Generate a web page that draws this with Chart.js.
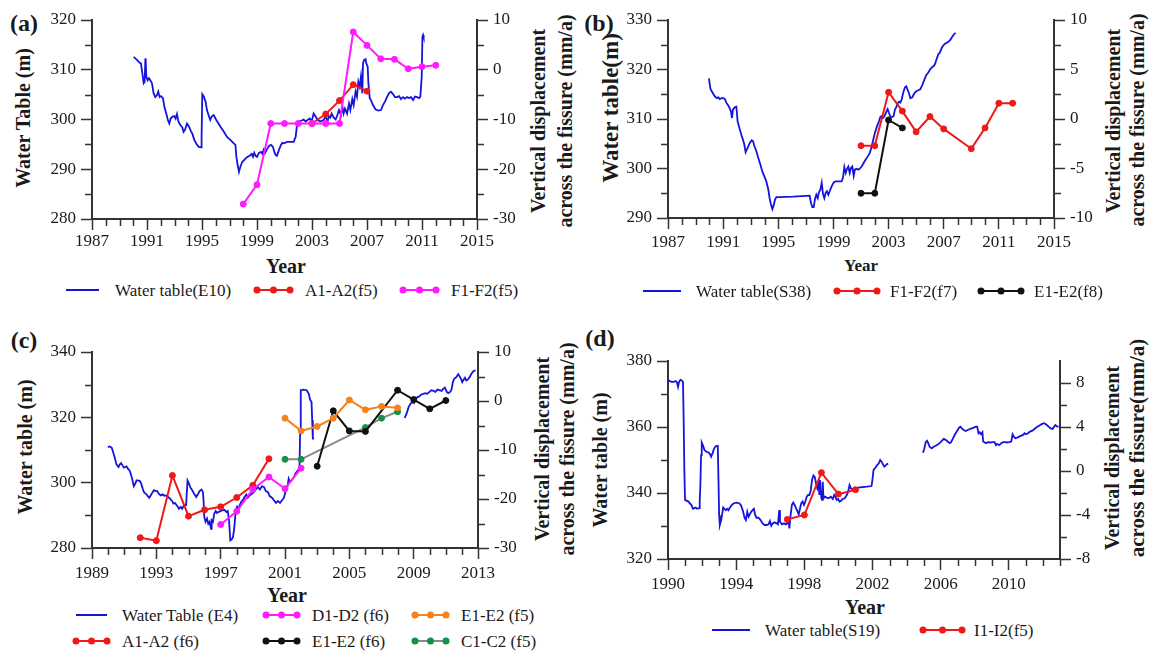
<!DOCTYPE html>
<html><head><meta charset="utf-8">
<script src="https://cdn.jsdelivr.net/npm/chart.js@4.4.1/dist/chart.umd.min.js"></script>
<style>
html,body{margin:0;padding:0;background:#fff;}
#wrap{position:relative;width:1149px;height:653px;overflow:hidden;font-family:"Liberation Serif","Times New Roman",serif;color:#1a1a1a;}
canvas{position:absolute;}
.t{position:absolute;white-space:nowrap;line-height:1;transform:translate(-50%,-50%);}
.r{transform:translate(-50%,-50%) rotate(-90deg);}
.b{font-weight:bold;}
.lg{position:absolute;white-space:nowrap;line-height:1;transform:translateY(-50%);font-size:17px;}
svg.sym{position:absolute;overflow:visible;}
</style></head><body><div id="wrap">
<div class="t b" style="left:24px;top:23px;font-size:24px">(a)</div>
<div class="t b r" style="left:23px;top:118px;font-size:20px">Water Table (m)</div>
<div class="t b r" style="left:538px;top:121px;font-size:20px">Vertical displacement</div>
<div class="t b r" style="left:565px;top:121px;font-size:20px">across the fissure (mm/a)</div>
<div class="t b" style="left:286px;top:266px;font-size:20px">Year</div>

<div class="t b" style="left:599px;top:23px;font-size:24px">(b)</div>
<div class="t b r" style="left:610px;top:108px;font-size:23px">Water table(m)</div>
<div class="t b r" style="left:1113px;top:121px;font-size:20px">Vertical displacement</div>
<div class="t b r" style="left:1137px;top:120px;font-size:20px">across the fissure (mm/a)</div>
<div class="t b" style="left:861px;top:265px;font-size:17px">Year</div>

<div class="t b" style="left:24px;top:340px;font-size:24px">(c)</div>
<div class="t b r" style="left:25px;top:447px;font-size:20px">Water table (m)</div>
<div class="t b r" style="left:542px;top:449px;font-size:20px">Vertical displacement</div>
<div class="t b r" style="left:567px;top:449px;font-size:20px">across the fissure (mm/a)</div>
<div class="t b" style="left:287px;top:595px;font-size:20px">Year</div>

<div class="t b" style="left:600px;top:338px;font-size:24px">(d)</div>
<div class="t b r" style="left:600px;top:460px;font-size:20px">Water table (m)</div>
<div class="t b r" style="left:1112px;top:458px;font-size:20px">Vertical displacement</div>
<div class="t b r" style="left:1137px;top:448px;font-size:21px">across the fissure(mm/a)</div>
<div class="t b" style="left:865px;top:607px;font-size:20px">Year</div>
</div>
<script>
// ---------------- DATA ----------------
// Panel (a)
const aYearTicks = [1987,1991,1995,1999,2003,2007,2011,2015];
const aLevelTicks = [280,290,300,310,320];
const aDispTicks = [-30,-20,-10,0,10];
const aE10 = [[1990.03,312.6],[1990.27,312.0],[1990.46,311.4],[1990.56,311.3],[1990.68,308.9],[1990.76,307.3],[1990.83,307.6],[1990.88,312.1],[1990.90,312.3],[1990.95,308.6],[1991.05,307.9],[1991.14,308.3],[1991.24,307.9],[1991.36,307.3],[1991.48,305.3],[1991.60,304.5],[1991.73,304.9],[1991.82,305.6],[1991.92,304.5],[1992.02,304.7],[1992.16,304.3],[1992.26,302.6],[1992.40,301.2],[1992.52,299.9],[1992.62,299.2],[1992.72,300.2],[1992.86,300.6],[1992.99,300.7],[1993.08,300.2],[1993.18,301.1],[1993.28,299.6],[1993.42,298.9],[1993.57,298.4],[1993.66,297.5],[1993.76,297.9],[1993.91,299.2],[1994.05,298.6],[1994.20,297.6],[1994.29,297.2],[1994.44,295.9],[1994.59,295.1],[1994.76,294.5],[1994.93,294.4],[1994.97,296.5],[1995.02,305.1],[1995.12,304.7],[1995.26,303.6],[1995.36,301.9],[1995.51,300.6],[1995.60,299.9],[1995.70,300.6],[1995.85,300.9],[1996.04,299.9],[1996.33,298.6],[1996.58,297.6],[1996.82,296.5],[1997.06,295.9],[1997.31,295.2],[1997.43,294.9],[1997.50,292.5],[1997.59,290.9],[1997.69,289.5],[1997.79,290.5],[1997.93,291.5],[1998.08,291.9],[1998.17,292.2],[1998.32,292.5],[1998.46,292.7],[1998.61,293.1],[1998.71,292.5],[1998.80,293.3],[1998.90,292.7],[1999.00,292.5],[1999.14,293.3],[1999.29,293.5],[1999.39,293.1],[1999.48,293.9],[1999.58,293.2],[1999.72,294.0],[1999.87,294.7],[2000.02,294.9],[2000.16,294.5],[2000.26,293.5],[2000.35,292.9],[2000.45,292.7],[2000.60,293.9],[2000.74,294.9],[2000.84,295.3],[2000.98,295.2],[2001.18,295.5],[2001.42,295.5],[2001.66,295.5],[2001.81,296.5],[2001.91,298.9],[2002.05,299.6],[2002.25,299.8],[2002.39,300.0],[2002.54,299.6],[2002.68,299.9],[2002.83,300.2],[2002.97,299.6],[2003.12,301.2],[2003.26,300.6],[2003.41,299.9],[2003.60,299.6],[2003.84,299.9],[2003.99,300.6],[2004.13,299.6],[2004.23,300.7],[2004.33,300.4],[2004.43,301.2],[2004.57,300.4],[2004.72,300.0],[2004.82,300.7],[2004.96,301.9],[2005.11,300.9],[2005.21,302.6],[2005.30,301.2],[2005.40,302.2],[2005.55,301.2],[2005.69,303.2],[2005.79,301.9],[2005.93,304.1],[2006.03,302.9],[2006.17,305.6],[2006.27,304.6],[2006.37,307.6],[2006.47,306.6],[2006.56,308.6],[2006.66,305.3],[2006.71,311.3],[2006.80,312.0],[2006.90,312.1],[2006.95,311.3],[2007.05,310.6],[2007.10,307.3],[2007.20,304.3],[2007.29,303.9],[2007.43,302.9],[2007.63,302.0],[2007.82,301.8],[2008.02,301.9],[2008.16,302.9],[2008.31,303.6],[2008.45,304.5],[2008.60,305.3],[2008.74,305.6],[2008.89,305.1],[2009.03,304.5],[2009.18,304.5],[2009.33,304.7],[2009.47,304.1],[2009.62,304.5],[2009.76,304.2],[2009.91,304.5],[2010.06,304.3],[2010.20,304.5],[2010.35,303.9],[2010.49,304.6],[2010.64,304.5],[2010.79,304.3],[2010.88,304.6],[2010.98,308.6],[2011.03,316.6],[2011.08,317.0],[2011.12,316.6]];
const aA1A2 = [[2003,-10.8],[2004,-8.9],[2005,-6.2],[2006,-3.0],[2007,-4.3]];
const aF1F2 = [[1998,-27.0],[1999,-23.1],[2000,-10.8],[2001,-10.8],[2002,-10.8],[2003,-10.8],[2004,-10.8],[2005,-10.8],[2006,7.6],[2007,4.9],[2008,2.2],[2009,2.1],[2010,0.2],[2011,0.6],[2012,0.9]];

// Panel (b)
const bYearTicks = [1987,1991,1995,1999,2003,2007,2011,2015];
const bLevelTicks = [290,300,310,320,330];
const bDispTicks = [-10,-5,0,5,10];
const bS38 = [[1989.97,318.2],[1990.07,316.2],[1990.17,315.6],[1990.26,315.2],[1990.36,314.7],[1990.46,314.4],[1990.55,314.2],[1990.65,314.4],[1990.75,314.0],[1990.89,314.2],[1991.04,314.2],[1991.13,314.0],[1991.23,313.3],[1991.38,312.7],[1991.47,312.2],[1991.57,311.5],[1991.64,310.2],[1991.71,311.9],[1991.86,312.4],[1991.96,312.5],[1992.05,309.5],[1992.15,308.5],[1992.25,307.5],[1992.34,306.6],[1992.44,305.8],[1992.54,304.8],[1992.63,303.3],[1992.73,303.9],[1992.83,304.5],[1992.92,305.1],[1993.07,305.7],[1993.17,305.5],[1993.26,304.6],[1993.41,303.5],[1993.55,302.1],[1993.70,300.8],[1993.84,299.4],[1993.99,298.4],[1994.13,297.4],[1994.28,295.7],[1994.37,294.0],[1994.47,292.7],[1994.57,291.8],[1994.66,292.5],[1994.76,293.7],[1994.86,294.2],[1995.10,294.2],[1996.07,294.3],[1997.28,294.5],[1997.37,293.0],[1997.47,292.2],[1997.57,292.2],[1997.66,293.8],[1997.76,294.7],[1997.86,294.0],[1997.95,295.2],[1998.05,295.7],[1998.15,297.1],[1998.24,294.9],[1998.34,294.0],[1998.44,295.1],[1998.53,295.4],[1998.63,294.7],[1998.73,295.4],[1998.87,296.4],[1999.02,297.2],[1999.16,297.4],[1999.45,297.4],[1999.60,297.4],[1999.69,298.1],[1999.79,300.3],[1999.89,299.1],[1999.98,299.9],[2000.08,300.4],[2000.18,299.1],[2000.27,300.1],[2000.37,300.4],[2000.47,298.5],[2000.56,299.8],[2000.66,299.9],[2000.85,299.8],[2000.95,300.1],[2001.05,300.4],[2001.19,301.1],[2001.34,301.8],[2001.48,302.4],[2001.63,303.1],[2001.72,303.9],[2001.87,305.6],[2002.01,307.2],[2002.16,308.5],[2002.30,309.5],[2002.40,310.4],[2002.50,310.6],[2002.59,310.2],[2002.69,310.5],[2002.84,311.5],[2002.93,312.0],[2003.03,311.2],[2003.13,310.5],[2003.27,310.4],[2003.37,310.6],[2003.46,311.9],[2003.56,312.4],[2003.66,313.2],[2003.76,313.5],[2003.85,313.3],[2003.95,313.9],[2004.05,315.2],[2004.19,316.4],[2004.29,316.6],[2004.38,315.9],[2004.48,315.2],[2004.58,314.2],[2004.72,314.4],[2004.87,315.2],[2005.01,315.6],[2005.16,315.8],[2005.30,316.0],[2005.45,316.9],[2005.59,317.9],[2005.74,318.9],[2005.88,319.4],[2006.03,320.1],[2006.17,320.5],[2006.27,320.7],[2006.37,321.1],[2006.46,321.9],[2006.61,323.1],[2006.70,323.3],[2006.85,324.3],[2006.95,324.8],[2007.09,325.2],[2007.24,325.4],[2007.33,325.6],[2007.48,326.0],[2007.62,326.6],[2007.77,327.2],[2007.87,327.4]];
const bF1F2 = [[2001,-2.7],[2002,-2.7],[2003,2.7],[2004,0.8],[2005,-1.3],[2006,0.25],[2007,-1.0],[2009,-3.0],[2010,-0.9],[2011,1.6],[2012,1.6]];
const bE1E2 = [[2001,-7.5],[2002,-7.5],[2003,-0.1],[2004,-0.9]];

// Panel (c)
const cYearTicks = [1989,1993,1997,2001,2005,2009,2013];
const cLevelTicks = [280,300,320,340];
const cDispTicks = [-30,-20,-10,0,10];
const cE4 = [[1989.98,310.9],[1990.10,311.1],[1990.23,310.7],[1990.31,309.4],[1990.40,307.9],[1990.52,305.6],[1990.65,304.8],[1990.73,305.6],[1990.81,306.0],[1990.90,305.3],[1990.98,304.6],[1991.06,304.8],[1991.15,305.0],[1991.23,304.3],[1991.35,303.6],[1991.44,302.2],[1991.52,300.7],[1991.60,298.9],[1991.69,299.7],[1991.77,300.7],[1991.85,300.7],[1991.98,300.5],[1992.06,299.7],[1992.15,298.2],[1992.23,297.1],[1992.35,296.6],[1992.48,295.8],[1992.56,295.4],[1992.65,296.1],[1992.77,297.1],[1992.85,297.7],[1992.98,297.4],[1993.06,297.4],[1993.15,296.6],[1993.27,296.1],[1993.40,296.4],[1993.48,296.0],[1993.60,296.1],[1993.73,295.6],[1993.85,295.1],[1993.98,294.4],[1994.06,293.6],[1994.15,293.8],[1994.23,293.3],[1994.31,292.8],[1994.40,292.0],[1994.52,292.6],[1994.60,292.0],[1994.73,293.1],[1994.85,293.1],[1994.94,300.7],[1995.02,299.9],[1995.10,298.7],[1995.23,297.7],[1995.35,296.6],[1995.48,295.6],[1995.60,296.6],[1995.69,297.4],[1995.81,297.9],[1995.90,297.1],[1995.94,294.1],[1995.98,289.5],[1996.06,288.0],[1996.15,289.0],[1996.23,287.4],[1996.31,288.0],[1996.40,285.9],[1996.44,288.5],[1996.52,288.0],[1996.60,290.5],[1996.69,291.3],[1996.77,290.7],[1996.85,291.0],[1996.98,291.3],[1997.10,291.5],[1997.23,291.7],[1997.35,291.0],[1997.44,291.3],[1997.52,288.5],[1997.60,282.3],[1997.69,282.6],[1997.77,283.4],[1997.85,286.4],[1997.94,291.5],[1998.02,292.6],[1998.10,292.0],[1998.19,293.1],[1998.27,294.1],[1998.40,294.8],[1998.48,295.6],[1998.60,296.4],[1998.69,295.4],[1998.81,296.1],[1998.94,296.6],[1999.06,297.1],[1999.19,297.9],[1999.31,298.7],[1999.44,297.9],[1999.56,298.9],[1999.69,298.7],[1999.81,297.4],[1999.94,297.1],[2000.06,295.8],[2000.19,295.4],[2000.31,294.6],[2000.44,293.8],[2000.56,294.4],[2000.69,293.8],[2000.81,294.6],[2000.94,295.4],[2001.06,297.9],[2001.15,298.7],[2001.23,301.2],[2001.31,300.2],[2001.40,300.7],[2001.48,301.2],[2001.56,301.7],[2001.65,302.8],[2001.73,303.3],[2001.81,303.8],[2001.90,304.6],[2001.94,315.0],[2001.98,328.3],[2002.15,328.5],[2002.35,328.3],[2002.48,327.2],[2002.56,325.4],[2002.65,324.7],[2002.69,319.1],[2002.73,313.5],[2002.81,313.5],[2005.5,null],[2008.44,319.8],[2008.56,321.1],[2008.69,323.2],[2008.81,324.2],[2008.94,324.7],[2009.02,324.4],[2009.10,325.4],[2009.23,326.2],[2009.35,326.4],[2009.48,327.0],[2009.60,327.2],[2009.73,327.4],[2009.85,327.2],[2009.98,327.8],[2010.10,328.3],[2010.23,328.1],[2010.35,327.8],[2010.48,328.5],[2010.60,328.3],[2010.73,328.1],[2010.85,328.8],[2010.94,329.1],[2011.06,327.8],[2011.15,327.4],[2011.27,327.8],[2011.35,328.5],[2011.44,330.8],[2011.52,331.8],[2011.65,332.3],[2011.77,333.2],[2011.85,332.6],[2011.94,331.8],[2012.02,330.8],[2012.10,331.5],[2012.19,332.1],[2012.27,331.3],[2012.35,331.5],[2012.48,332.3],[2012.60,333.4],[2012.73,334.2],[2012.85,334.4]];
const cA1A2 = [[1992,-27.9],[1993,-28.5],[1994,-15.2],[1995,-23.5],[1996,-22.2],[1997,-21.6],[1998,-19.7],[1999,-17.2],[2000,-11.8]];
const cD1D2 = [[1997,-25.2],[1998,-22.5],[1999,-18.0],[2000,-15.5],[2001,-17.9],[2002,-13.7]];
const cE1E2f5 = [[2001,-3.5],[2002,-6.1],[2003,-5.2],[2004,-3.5],[2005,0.2],[2006,-1.8],[2007,-1.1],[2008,-1.4]];
const cE1E2f6 = [[2003,-13.3],[2004,-2.0],[2005,-6.1],[2006,-6.2],[2008,2.2],[2009,0.3],[2010,-1.6],[2011,0.1]];
const cC1C2 = [[2001,-11.9],[2002,-11.9],[2006,-5.4],[2007,-3.5],[2008,-2.2]];

// Panel (d)
const dYearTicks = [1990,1994,1998,2002,2006,2010];
const dLevelTicks = [320,340,360,380];
const dDispTicks = [-8,-4,0,4,8];
const dS19 = [[1990.00,374.2],[1990.10,373.9],[1990.22,373.7],[1990.33,373.7],[1990.45,373.9],[1990.53,373.5],[1990.59,372.2],[1990.65,373.7],[1990.73,374.3],[1990.80,374.1],[1990.88,373.7],[1990.92,361.6],[1990.96,346.5],[1991.00,337.9],[1991.08,337.7],[1991.20,337.4],[1991.31,336.7],[1991.39,336.2],[1991.47,335.2],[1991.55,335.4],[1991.63,335.6],[1991.71,335.2],[1991.82,335.4],[1991.86,337.4],[1991.90,342.4],[1991.94,351.5],[1991.98,355.3],[1992.06,354.3],[1992.14,353.0],[1992.25,352.5],[1992.37,352.3],[1992.45,351.9],[1992.53,351.0],[1992.61,352.0],[1992.69,353.3],[1992.76,353.9],[1992.84,354.3],[1992.92,354.3],[1992.96,344.4],[1993.00,333.3],[1993.04,330.3],[1993.12,331.8],[1993.20,334.3],[1993.24,335.6],[1993.31,335.2],[1993.39,334.8],[1993.47,335.2],[1993.55,334.8],[1993.63,335.6],[1993.75,336.4],[1993.86,336.9],[1994.02,337.1],[1994.18,336.9],[1994.29,336.2],[1994.41,334.3],[1994.49,332.5],[1994.57,331.8],[1994.65,334.3],[1994.73,332.8],[1994.80,333.5],[1994.88,334.3],[1994.96,334.8],[1995.04,335.2],[1995.12,333.3],[1995.20,332.5],[1995.31,332.5],[1995.43,331.8],[1995.55,330.8],[1995.67,330.3],[1995.78,330.3],[1995.90,330.5],[1995.98,331.5],[1996.06,330.1],[1996.14,330.8],[1996.25,331.1],[1996.37,330.8],[1996.45,330.5],[1996.53,334.8],[1996.57,331.3],[1996.69,330.5],[1996.80,330.8],[1996.92,330.5],[1997.00,330.8],[1997.08,331.8],[1997.12,329.3],[1997.20,333.5],[1997.27,336.4],[1997.35,337.1],[1997.43,336.4],[1997.51,335.4],[1997.59,334.5],[1997.67,333.5],[1997.75,335.4],[1997.82,336.9],[1997.90,337.4],[1997.98,336.4],[1998.06,337.4],[1998.14,338.9],[1998.22,339.4],[1998.29,339.4],[1998.37,340.6],[1998.45,343.9],[1998.53,345.3],[1998.61,344.9],[1998.69,342.9],[1998.76,341.4],[1998.84,342.9],[1998.88,339.4],[1998.92,343.9],[1999.00,338.4],[1999.04,337.9],[1999.08,343.4],[1999.12,338.4],[1999.20,338.9],[1999.31,338.6],[1999.43,338.4],[1999.55,338.9],[1999.67,338.2],[1999.75,339.4],[1999.82,338.9],[1999.90,337.9],[1999.98,338.2],[2000.06,337.4],[2000.14,337.6],[2000.25,338.2],[2000.37,338.4],[2000.49,339.4],[2000.57,340.4],[2000.65,342.4],[2000.73,341.4],[2000.80,341.2],[2000.92,341.4],[2001.27,341.7],[2001.67,341.9],[2001.94,342.1],[2001.98,343.4],[2002.06,347.0],[2002.14,347.5],[2002.25,348.3],[2002.37,349.0],[2002.45,350.0],[2002.53,349.5],[2002.61,348.7],[2002.69,348.0],[2002.76,348.3],[2002.84,348.7],[2002.92,348.9],[2004.0,null],[2004.96,352.2],[2005.04,353.5],[2005.12,355.4],[2005.20,355.8],[2005.27,355.1],[2005.35,354.0],[2005.47,353.5],[2005.59,354.0],[2005.71,354.3],[2005.82,354.7],[2005.94,355.1],[2006.06,355.8],[2006.18,356.4],[2006.29,356.1],[2006.41,355.6],[2006.53,355.1],[2006.61,355.4],[2006.73,356.6],[2006.84,357.8],[2006.96,358.8],[2007.08,359.8],[2007.16,360.1],[2007.24,359.6],[2007.35,359.1],[2007.47,358.8],[2007.59,359.1],[2007.71,359.4],[2007.82,359.6],[2007.94,359.8],[2008.06,360.1],[2008.14,360.1],[2008.22,358.1],[2008.29,358.4],[2008.37,357.8],[2008.45,358.4],[2008.49,355.6],[2008.57,355.4],[2008.65,355.1],[2008.76,355.4],[2008.92,355.3],[2009.04,355.4],[2009.16,355.4],[2009.24,354.5],[2009.31,354.9],[2009.43,354.5],[2009.55,355.1],[2009.67,355.4],[2009.78,355.4],[2009.90,355.3],[2010.02,355.4],[2010.14,355.6],[2010.22,357.8],[2010.29,357.1],[2010.37,356.6],[2010.49,356.8],[2010.61,357.1],[2010.73,357.4],[2010.84,357.6],[2010.92,358.1],[2011.00,357.8],[2011.12,358.1],[2011.24,358.6],[2011.35,358.8],[2011.43,359.1],[2011.55,359.6],[2011.67,360.1],[2011.78,360.4],[2011.90,360.8],[2012.02,361.1],[2012.10,361.1],[2012.22,360.6],[2012.33,360.1],[2012.45,359.6],[2012.57,359.4],[2012.65,360.1],[2012.73,360.6],[2012.84,360.1],[2012.92,360.1]];
const dI1I2 = [[1997,-4.4],[1998,-4.0],[1999,-0.15],[2000,-2.1],[2001,-1.7]];

// ---------------- STYLE ----------------
const AX = '#333';
const FONT = "'Liberation Serif','Times New Roman',serif";
const BLUE = '#1414dc', RED = '#f01818', MAG = '#ff1aff', BLACK = '#111111', ORANGE = '#f5821f', GREEN = '#13904a', GRAY = '#888888';
const wrap = document.getElementById('wrap');

function pts(arr){ return arr.map(p => ({x:p[0], y:p[1]})); }
function steps(a,b,s){ const r=[]; for(let v=a; v<=b+1e-9; v+=s) r.push(+v.toFixed(4)); return r; }
function minorOf(a,b,s,major){ return steps(a,b,s).filter(v => !major.some(m => Math.abs(m-v)<1e-6)); }
function water(data,color){ return {data:pts(data), borderColor:color, borderWidth:1.8, pointRadius:0, tension:0, yAxisID:'y', spanGaps:false}; }
function disp(data,color,lineColor){ return {data:pts(data), borderColor:lineColor||color, backgroundColor:color, pointBackgroundColor:color, pointBorderColor:color, borderWidth:2, pointRadius:3, pointBorderWidth:1, tension:0, yAxisID:'y2'}; }

function panel(p){
  const c = document.createElement('canvas');
  c.width = p.w; c.height = p.h;
  c.style.left = p.left+'px'; c.style.top = p.top+'px';
  wrap.appendChild(c);
  const tickFont = {family:FONT, size:17};
  const axisCommon = (ticksArr, pad) => ({
    afterBuildTicks: s => { s.ticks = ticksArr.map(v => ({value:v})); },
    ticks:{font:tickFont, color:'#1a1a1a', padding:pad, autoSkip:false, maxRotation:0, callback:v => String(v)},
    grid:{drawOnChartArea:false, drawTicks:true, tickLength:11, tickWidth:1.5, tickColor:AX},
    border:{display:true, color:AX, width:2}
  });
  const minorPlugin = {
    id:'minorTicks',
    afterDraw(chart){
      const ctx = chart.ctx, ca = chart.chartArea, sx = chart.scales.x, sy = chart.scales.y, sy2 = chart.scales.y2;
      ctx.save(); ctx.strokeStyle = AX; ctx.lineWidth = 1.5; ctx.beginPath();
      minorOf(p.x[0], p.x[1], 1, p.xTicks).forEach(v => { const px = Math.round(sx.getPixelForValue(v))+0.5; ctx.moveTo(px, ca.bottom); ctx.lineTo(px, ca.bottom+7); });
      minorOf(p.y[0], p.y[1], p.yMinor, p.yTicks).forEach(v => { const py = Math.round(sy.getPixelForValue(v))+0.5; ctx.moveTo(ca.left-7, py); ctx.lineTo(ca.left, py); });
      minorOf(p.y2[0], p.y2Top, p.y2Minor, p.y2Ticks).forEach(v => { const py = Math.round(sy2.getPixelForValue(v))+0.5; ctx.moveTo(ca.right, py); ctx.lineTo(ca.right+7, py); });
      ctx.stroke(); ctx.restore();
    }
  };
  new Chart(c, {
    type:'line',
    data:{datasets:p.datasets},
    options:{
      responsive:false, animation:false, devicePixelRatio:1,
      layout:{padding:{top:p.area.t - p.top, left:0, right:0, bottom:0}},
      plugins:{legend:{display:false}, tooltip:{enabled:false}},
      scales:{
        x:Object.assign({type:'linear', min:p.x[0], max:p.x[1], afterFit: s => { s.height = p.top + p.h - p.area.b; }}, axisCommon(p.xTicks, p.xPad)),
        y:Object.assign({type:'linear', position:'left', min:p.y[0], max:p.y[1], afterFit: s => { s.width = p.area.l - p.left; }}, axisCommon(p.yTicks, 5)),
        y2:Object.assign({type:'linear', position:'right', min:p.y2[0], max:p.y2[1], afterFit: s => { s.width = p.left + p.w - p.area.r; }}, axisCommon(p.y2Ticks, 5))
      }
    },
    plugins:[minorPlugin]
  });
}

panel({left:0, top:0, w:580, h:270, area:{l:92, r:477, t:20, b:219},
  x:[1987,2015], xTicks:aYearTicks, xPad:1,
  y:[280,320], yTicks:aLevelTicks, yMinor:5,
  y2:[-30,10], y2Top:10, y2Ticks:aDispTicks, y2Minor:5,
  datasets:[disp(aF1F2,MAG), disp(aA1A2,RED), water(aE10,BLUE)]});

panel({left:580, top:0, w:569, h:270, area:{l:668, r:1054, t:20, b:218},
  x:[1987,2015], xTicks:bYearTicks, xPad:3,
  y:[290,330], yTicks:bLevelTicks, yMinor:5,
  y2:[-10,10], y2Top:10, y2Ticks:bDispTicks, y2Minor:2.5,
  datasets:[disp(bE1E2,BLACK), disp(bF1F2,RED), water(bS38,BLUE)]});

panel({left:0, top:300, w:580, h:300, area:{l:92, r:478, t:352, b:548},
  x:[1989,2013], xTicks:cYearTicks, xPad:4,
  y:[280,340], yTicks:cLevelTicks, yMinor:10,
  y2:[-30,10], y2Top:10, y2Ticks:cDispTicks, y2Minor:5,
  datasets:[disp(cE1E2f5,ORANGE), disp(cE1E2f6,BLACK), disp(cC1C2,GREEN,GRAY), disp(cD1D2,MAG), disp(cA1A2,RED), water(cE4,BLUE)]});

panel({left:580, top:300, w:569, h:300, area:{l:668, r:1060, t:361, b:559},
  x:[1990,2013], xTicks:dYearTicks, xPad:4,
  y:[320,380], yTicks:dLevelTicks, yMinor:10,
  y2:[-8,10], y2Top:8, y2Ticks:dDispTicks, y2Minor:2,
  datasets:[disp(dI1I2,RED), water(dS19,BLUE)]});

// ---------------- LEGENDS (HTML) ----------------
const legends = [
  {y:290, items:[[66,99,BLUE,null,'Water table(E10)',115],[257,290,RED,RED,'A1-A2(f5)',305],[403,436,MAG,MAG,'F1-F2(f5)',451]]},
  {y:291, items:[[643,681,BLUE,null,'Water table(S38)',696],[837,877,RED,RED,'F1-F2(f7)',890],[981,1021,BLACK,BLACK,'E1-E2(f8)',1034]]},
  {y:615, items:[[76,107,BLUE,null,'Water Table (E4)',122],[266,297,MAG,MAG,'D1-D2 (f6)',312],[415,446,ORANGE,ORANGE,'E1-E2 (f5)',461]]},
  {y:641, items:[[76,107,RED,RED,'A1-A2 (f6)',122],[266,297,BLACK,BLACK,'E1-E2 (f6)',312],[415,446,GRAY,GREEN,'C1-C2 (f5)',461]]},
  {y:630, items:[[712,750,BLUE,null,'Water table(S19)',765],[923,962,RED,RED,'I1-I2(f5)',974]]}
];
const NS = 'http://www.w3.org/2000/svg';
legends.forEach(row => row.items.forEach(([x1,x2,lc,dc,text,tx]) => {
  const svg = document.createElementNS(NS,'svg');
  svg.setAttribute('class','sym');
  svg.setAttribute('width', x2-x1); svg.setAttribute('height', 10);
  svg.style.left = x1+'px'; svg.style.top = (row.y-5)+'px';
  const ln = document.createElementNS(NS,'line');
  ln.setAttribute('x1',0); ln.setAttribute('x2',x2-x1); ln.setAttribute('y1',5); ln.setAttribute('y2',5);
  ln.setAttribute('stroke',lc); ln.setAttribute('stroke-width',2);
  svg.appendChild(ln);
  if (dc) [0,(x2-x1)/2,x2-x1].forEach(cx => {
    const ci = document.createElementNS(NS,'circle');
    ci.setAttribute('cx',cx); ci.setAttribute('cy',5); ci.setAttribute('r',3.5); ci.setAttribute('fill',dc);
    svg.appendChild(ci);
  });
  wrap.appendChild(svg);
  const d = document.createElement('div');
  d.className = 'lg'; d.textContent = text;
  d.style.left = tx+'px'; d.style.top = row.y+'px';
  wrap.appendChild(d);
}));
</script></body></html>
